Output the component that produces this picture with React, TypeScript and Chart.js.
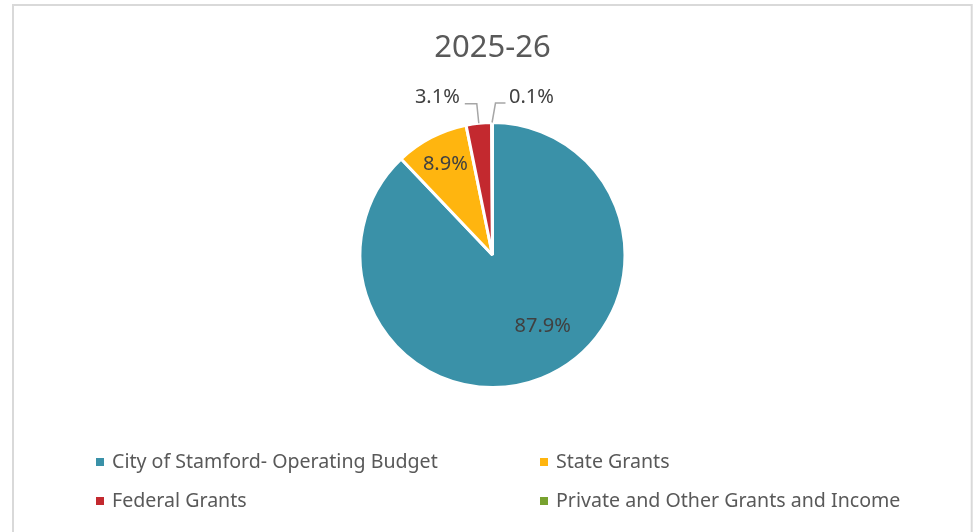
import React, { useEffect, useRef } from "react";
import { Chart, registerables } from "chart.js";

Chart.register(...registerables);

// ---- data ----
const chartTitle = "2025-26";
const categories = [
  "City of Stamford- Operating Budget",
  "State Grants",
  "Federal Grants",
  "Private and Other Grants and Income",
];
const shares = [87.9, 8.9, 3.1, 0.1];
const shareLabels = ["87.9%", "8.9%", "3.1%", "0.1%"];

// ---- styles ----
const sliceColors = ["#3A91A8", "#FFB50F", "#C3292F", "#78A22F"];
const textColor = "#595959";
const labelColor = "#404040";
const leaderColor = "#A6A6A6";
const fontFamily = "'Noto Sans', 'DejaVu Sans', sans-serif";
const labelPlacement = [
  { mode: "inside", spanFrac: 0.458, radFrac: 0.66 },
  { mode: "inside", spanFrac: 0.5, radFrac: 0.77 },
  { mode: "left" },
  { mode: "right" },
];
const legendLayout = { colX: [96, 540], rowY: [462, 501], box: 8, gap: 8, fontSize: 19.6 };

const framePlugin = {
  id: "frame",
  beforeDraw(chart: any) {
    const ctx = chart.ctx;
    ctx.save();
    ctx.fillStyle = "#ffffff";
    ctx.fillRect(0, 0, chart.width, chart.height);
    ctx.strokeStyle = "#D9D9D9";
    ctx.lineWidth = 2;
    ctx.strokeRect(13, 5, 958.7, 600);
    ctx.restore();
  },
};

const labelPlugin = {
  id: "sliceLabels",
  afterDatasetsDraw(chart: any) {
    const ctx = chart.ctx;
    const meta = chart.getDatasetMeta(0);
    ctx.save();
    ctx.font = `20px ${fontFamily}`;
    ctx.textBaseline = "middle";
    meta.data.forEach((arc: any, i: number) => {
      const p = arc.getProps(["x", "y", "startAngle", "endAngle", "outerRadius"], true);
      const cfg: any = labelPlacement[i];
      const text = shareLabels[i];
      if (cfg.mode === "inside") {
        const a = p.startAngle + (p.endAngle - p.startAngle) * cfg.spanFrac;
        const r = p.outerRadius * cfg.radFrac;
        ctx.textAlign = "center";
        ctx.fillStyle = labelColor;
        ctx.fillText(text, p.x + Math.cos(a) * r, p.y + Math.sin(a) * r);
      } else {
        const a = (p.startAngle + p.endAngle) / 2;
        const ex = p.x + Math.cos(a) * p.outerRadius;
        const ey = p.y + Math.sin(a) * p.outerRadius;
        const left = cfg.mode === "left";
        const bx = ex + (left ? -2 : 3.4);
        const by = ey - 19.5;
        const hx = bx + (left ? -12 : 10);
        ctx.strokeStyle = leaderColor;
        ctx.lineWidth = 1.5;
        ctx.beginPath();
        ctx.moveTo(ex, ey);
        ctx.lineTo(bx, by);
        ctx.lineTo(hx, by);
        ctx.stroke();
        ctx.textAlign = left ? "right" : "left";
        ctx.fillStyle = labelColor;
        ctx.fillText(text, hx + (left ? -5 : 3.5), by - 6);
      }
    });
    ctx.restore();
  },
};

const legendPlugin = {
  id: "gridLegend",
  afterDraw(chart: any) {
    const ctx = chart.ctx;
    const labels = chart.data.labels as string[];
    const colors = chart.data.datasets[0].backgroundColor as string[];
    ctx.save();
    ctx.font = `${legendLayout.fontSize}px ${fontFamily}`;
    ctx.textBaseline = "middle";
    ctx.textAlign = "left";
    labels.forEach((lab, i) => {
      const x = legendLayout.colX[i % 2];
      const y = legendLayout.rowY[Math.floor(i / 2)];
      ctx.fillStyle = colors[i];
      ctx.fillRect(x, y - legendLayout.box / 2, legendLayout.box, legendLayout.box);
      ctx.fillStyle = textColor;
      ctx.fillText(lab, x + legendLayout.box + legendLayout.gap, y);
    });
    ctx.restore();
  },
};

export default function App() {
  const ref = useRef<HTMLCanvasElement | null>(null);
  useEffect(() => {
    if (!ref.current) return;
    const chart = new Chart(ref.current, {
      type: "pie",
      data: {
        labels: categories,
        datasets: [
          {
            data: shares,
            backgroundColor: sliceColors,
            borderColor: "#ffffff",
            borderWidth: 3,
          },
        ],
      },
      options: {
        responsive: false,
        animation: false,
        layout: { padding: { left: 10, right: 0, top: 0, bottom: 143 } },
        plugins: {
          legend: { display: false },
          tooltip: { enabled: false },
          title: {
            display: true,
            text: chartTitle,
            color: textColor,
            font: { family: fontFamily, size: 31, weight: "normal", lineHeight: 1.2 },
            padding: { top: 29.5, bottom: 54.3 },
          },
        },
      } as any,
      plugins: [framePlugin, labelPlugin, legendPlugin],
    });
    return () => chart.destroy();
  }, []);
  return (
    <div style={{ position: "fixed", left: 0, top: 0, width: 975, height: 532, background: "#fff" }}>
      <canvas ref={ref} width={975} height={532} style={{ display: "block" }} />
    </div>
  );
}
